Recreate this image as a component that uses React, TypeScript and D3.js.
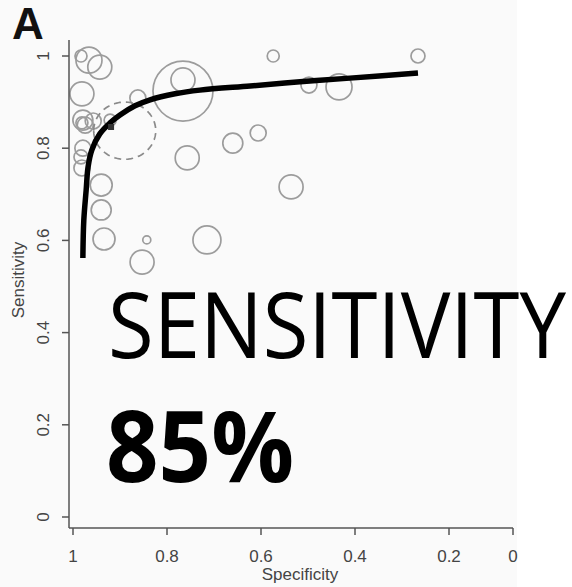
import React from "react";
import * as d3 from "d3";

const W = 572;
const H = 587;

// individual studies: specificity, sensitivity, sample size
const studySpec = [
  0.983, 0.966, 0.943, 0.981, 0.979, 0.974, 0.981, 0.957, 0.921, 0.979,
  0.983, 0.981, 0.862, 0.766, 0.766, 0.574, 0.757, 0.66, 0.606, 0.536,
  0.498, 0.434, 0.266, 0.94, 0.94, 0.934, 0.843, 0.853, 0.715,
];
const studySens = [
  1.0, 0.991, 0.976, 0.918, 0.861, 0.85, 0.855, 0.859, 0.861, 0.8,
  0.781, 0.757, 0.909, 0.924, 0.948, 1.0, 0.779, 0.811, 0.833, 0.716,
  0.937, 0.933, 1.0, 0.72, 0.666, 0.603, 0.601, 0.553, 0.601,
];
const studyN = [
  36, 169, 144, 144, 100, 64, 36, 64, 36, 64,
  49, 64, 64, 900, 144, 36, 144, 100, 64, 144,
  64, 169, 49, 121, 100, 121, 16, 144, 196,
];

// fitted SROC curve
const curveSpec = [
  0.979, 0.977, 0.972, 0.968, 0.96, 0.943, 0.921, 0.9, 0.868, 0.836,
  0.783, 0.73, 0.623, 0.517, 0.411, 0.266,
];
const curveSens = [
  0.562, 0.644, 0.709, 0.759, 0.796, 0.831, 0.855, 0.872, 0.892, 0.905,
  0.918, 0.926, 0.935, 0.944, 0.952, 0.963,
];

// summary point and 95% confidence region
const summarySpec = 0.919;
const summarySens = 0.846;
const regionSpec = 0.89;
const regionSens = 0.838;
const regionHalfSpec = 0.066;
const regionHalfSens = 0.062;

const xTicks = [1, 0.8, 0.6, 0.4, 0.2, 0];
const yTicks = [0, 0.2, 0.4, 0.6, 0.8, 1];

const axisFont = "'Liberation Sans', Arial, Helvetica, sans-serif";
const bigFont = "'Open Sans', 'Noto Sans', sans-serif";

const App = () => {
  const x = d3.scaleLinear().domain([1, 0.2, 0]).range([73, 449, 513]);
  const y = d3.scaleLinear().domain([0, 1]).range([517, 56]);
  const r = d3.scaleSqrt().domain([0, 900]).range([0, 30]);

  const curve = d3
    .line<number>()
    .x(i => x(curveSpec[i]))
    .y(i => y(curveSens[i]))
    .curve(d3.curveCatmullRom);

  const ellipse = d3
    .line<number>()
    .x(t => x(regionSpec + regionHalfSpec * Math.cos(t)))
    .y(t => y(regionSens + regionHalfSens * Math.sin(t)))
    .curve(d3.curveLinearClosed);

  const xAxisY = 528;
  const yAxisX = 69;

  return (
    <svg
      width={W}
      height={H}
      style={{ position: "absolute", left: 0, top: 0 }}
    >
      <rect width={W} height={H} fill="#ffffff" />
      <rect width={517} height={H} fill="#fafafa" />

      {/* panel letter */}
      <text x={12} y={39} fontFamily={axisFont} fontWeight="bold" fontSize={44} fill="#111">
        A
      </text>

      {/* studies */}
      <g fill="none" stroke="#9c9c9c" strokeWidth={1.7}>
        {studySpec.map((s, i) => (
          <circle key={i} cx={x(s)} cy={y(studySens[i])} r={r(studyN[i])} />
        ))}
      </g>

      {/* confidence region */}
      <path
        d={ellipse(d3.range(0, Math.PI * 2, Math.PI / 60)) || ""}
        fill="none"
        stroke="#8a8a8a"
        strokeWidth={1.7}
        strokeDasharray="7 5"
      />

      {/* SROC curve */}
      <path
        d={curve(d3.range(curveSpec.length)) || ""}
        fill="none"
        stroke="#000"
        strokeWidth={5.5}
        strokeLinecap="butt"
      />

      {/* summary point */}
      <rect
        x={x(summarySpec) - 3}
        y={y(summarySens) - 3}
        width={6}
        height={6}
        fill="#333"
      />

      {/* axes */}
      <g stroke="#555" strokeWidth={1.5} fill="none">
        <line x1={yAxisX} x2={yAxisX} y1={xAxisY} y2={40} />
        <line x1={yAxisX} x2={x(0)} y1={xAxisY} y2={xAxisY} />
        {xTicks.map(t => (
          <line key={t} x1={x(t)} x2={x(t)} y1={xAxisY} y2={xAxisY + 7} />
        ))}
        {yTicks.map(t => (
          <line key={t} x1={yAxisX} x2={yAxisX - 7} y1={y(t)} y2={y(t)} />
        ))}
      </g>
      <g fontFamily={axisFont} fontSize={17} fill="#444" textAnchor="middle">
        {xTicks.map(t => (
          <text key={t} x={x(t)} y={562}>
            {d3.format("~g")(t)}
          </text>
        ))}
        {yTicks.map(t => (
          <text key={t} transform={`translate(49,${y(t)}) rotate(-90)`}>
            {d3.format("~g")(t)}
          </text>
        ))}
        <text x={300} y={580}>Specificity</text>
        <text transform="translate(24,280) rotate(-90)">Sensitivity</text>
      </g>

      {/* overlay text */}
      <text
        transform="translate(108,358) scale(1,1.11)"
        fontFamily={bigFont}
        fontSize={82}
        fill="#000"
        textLength={458}
        lengthAdjust="spacingAndGlyphs"
      >
        SENSITIVITY
      </text>
      <text
        x={106}
        y={482}
        fontFamily={bigFont}
        fontWeight="bold"
        fontSize={98}
        fill="#000"
        textLength={188}
        lengthAdjust="spacingAndGlyphs"
      >
        85%
      </text>
    </svg>
  );
};

export default App;
